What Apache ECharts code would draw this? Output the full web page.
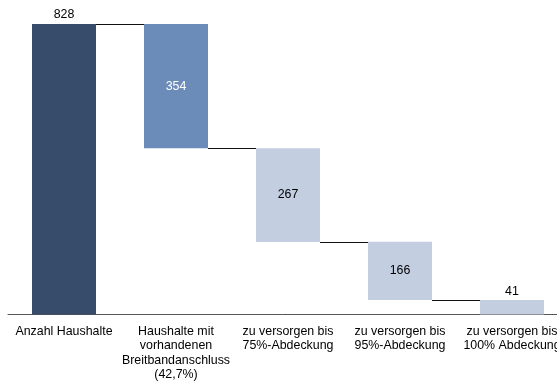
<!DOCTYPE html>
<html>
<head>
<meta charset="utf-8">
<script src="https://cdn.jsdelivr.net/npm/echarts@6/dist/echarts.min.js"></script>
<style>
  html, body { margin: 0; padding: 0; background: #fff; }
  #chart { width: 557px; height: 383px; }
</style>
</head>
<body>
<div id="chart"></div>
<script>
// Households and broadband coverage steps (thousands)
const categories = [
  'Anzahl Haushalte',
  'Haushalte mit\nvorhandenen\nBreitbandanschluss\n(42,7%)',
  'zu versorgen bis\n75%-Abdeckung',
  'zu versorgen bis\n95%-Abdeckung',
  'zu versorgen bis\n100% Abdeckung'
];
const values = [828, 354, 267, 166, 41];
const barColors = ['#374b6a', '#6b8cb9', '#c3cee1', '#c3cee1', '#c3cee1'];
const labelColors = ['#000', '#fff', '#000', '#000', '#000'];
const labelPositions = ['top', 'inside', 'inside', 'inside', 'top'];

// Waterfall: first bar is the total, each following bar is removed from the running level
const bases = [];
let level = values[0];
bases.push(0);
for (let i = 1; i < values.length; i++) {
  level -= values[i];
  bases.push(level);
}
// Connector between bar i and bar i+1 at the top of bar i+1
const connectors = [];
for (let i = 0; i < values.length - 1; i++) {
  connectors.push([i, bases[i + 1] + values[i + 1]]);
}

const BAR_W = 64;
const FONT = '"Liberation Sans", Arial, Helvetica, sans-serif';

const chart = echarts.init(document.getElementById('chart'), null, { renderer: 'canvas' });
chart.setOption({
  animation: false,
  backgroundColor: '#fff',
  grid: { left: 8, right: -11, top: 24, bottom: 68.5, containLabel: false, outerBoundsMode: 'none' },
  xAxis: {
    type: 'category',
    data: categories,
    axisLine: { show: true, lineStyle: { color: '#555', width: 1 } },
    axisTick: { show: false },
    axisLabel: {
      interval: 0, color: '#000', fontFamily: FONT, fontSize: 12.4,
      lineHeight: 14.3, margin: 10, align: 'center'
    },
    splitLine: { show: false }
  },
  yAxis: {
    type: 'value', min: 0, max: values[0], show: false,
    splitLine: { show: false }
  },
  series: [
    {
      name: 'base', type: 'bar', stack: 'w', barWidth: BAR_W,
      itemStyle: { color: 'transparent' }, silent: true,
      data: bases
    },
    {
      name: 'value', type: 'bar', stack: 'w', barWidth: BAR_W,
      data: values.map((v, i) => ({
        value: v,
        itemStyle: { color: barColors[i] },
        label: {
          show: true, position: labelPositions[i], color: labelColors[i],
          fontFamily: FONT, fontSize: 12.4, distance: 3
        }
      }))
    },
    {
      name: 'connector', type: 'custom', silent: true,
      renderItem: function (params, api) {
        const i = api.value(0);
        const y = api.value(1);
        const p0 = api.coord([i, y]);
        const p1 = api.coord([i + 1, y]);
        const half = BAR_W / 2;
        return {
          type: 'line',
          shape: { x1: p0[0] + half, y1: Math.round(p0[1]) + 0.5, x2: p1[0] - half, y2: Math.round(p1[1]) + 0.5 },
          style: { stroke: '#111', lineWidth: 1 }
        };
      },
      data: connectors,
      z: 5
    }
  ]
});
</script>
</body>
</html>
